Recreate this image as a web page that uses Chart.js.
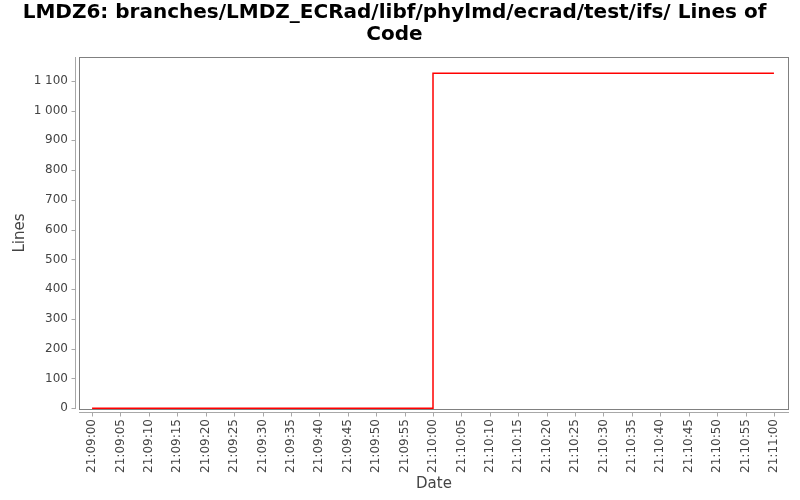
<!DOCTYPE html>
<html>
<head>
<meta charset="utf-8">
<script src="https://cdn.jsdelivr.net/npm/chart.js@4.4.1/dist/chart.umd.min.js"></script>
<style>
  html, body { margin: 0; padding: 0; background: #fff; }
  #wrap { width: 800px; height: 500px; }
</style>
</head>
<body>
<div id="wrap"><canvas id="locChart" width="800" height="500"></canvas></div>
<script>
/* ================= DATA ================= */
// seconds after 21:09:00
const SECONDS = [0, 60, 120];
const LINES = [0, 1125, 1125];

const X_TICK_VALUES = [0, 5, 10, 15, 20, 25, 30, 35, 40, 45, 50, 55, 60,
                       65, 70, 75, 80, 85, 90, 95, 100, 105, 110, 115, 120];
const X_TICK_LABELS = [
    "21:09:00", "21:09:05", "21:09:10", "21:09:15", "21:09:20", "21:09:25",
    "21:09:30", "21:09:35", "21:09:40", "21:09:45", "21:09:50", "21:09:55",
    "21:10:00", "21:10:05", "21:10:10", "21:10:15", "21:10:20", "21:10:25",
    "21:10:30", "21:10:35", "21:10:40", "21:10:45", "21:10:50", "21:10:55",
    "21:11:00"
];
const Y_TICKS = [0, 100, 200, 300, 400, 500, 600, 700, 800, 900, 1000, 1100];

const TITLE_LINES = [
    "LMDZ6: branches/LMDZ_ECRad/libf/phylmd/ecrad/test/ifs/ Lines of",
    "Code"
];

/* ================= HELPERS ================= */
function spaceThousands(v) {
    return String(v).replace(/\B(?=(\d{3})+(?!\d))/g, " ");
}

// plot frame + offset axes like the original
const frameAxes = {
    id: "frameAxes",
    afterDraw(chart) {
        const { ctx, chartArea: a, scales } = chart;
        ctx.save();
        ctx.lineWidth = 1;

        // plot border
        ctx.strokeStyle = "#808080";
        ctx.strokeRect(a.left + 0.5, a.top + 0.5, a.right - a.left - 1, a.bottom - a.top);

        ctx.strokeStyle = "#a8a8a8";
        // y axis
        const yx = a.left - 3.5;
        ctx.beginPath();
        ctx.moveTo(yx, a.top);
        ctx.lineTo(yx, a.bottom);
        Y_TICKS.forEach(v => {
            const py = Math.round(scales.y.getPixelForValue(v)) + 0.5;
            ctx.moveTo(yx - 4, py);
            ctx.lineTo(yx, py);
        });
        ctx.stroke();

        // x axis
        const xy = a.bottom + 3.5;
        ctx.beginPath();
        ctx.moveTo(a.left, xy);
        ctx.lineTo(a.right, xy);
        X_TICK_VALUES.forEach(v => {
            const px = Math.round(scales.x.getPixelForValue(v)) + 0.5;
            ctx.moveTo(px, xy);
            ctx.lineTo(px, xy + 4);
        });
        ctx.stroke();
        ctx.restore();
    }
};

/* ================= CHART ================= */
new Chart(document.getElementById("locChart"), {
    type: "line",
    data: {
        datasets: [{
            label: "Lines",
            data: SECONDS.map((s, i) => ({ x: s, y: LINES[i] })),
            borderColor: "#ff0000",
            borderWidth: 1.5,
            stepped: true,
            pointRadius: 0,
            fill: false
        }]
    },
    options: {
        responsive: false,
        animation: false,
        devicePixelRatio: 1,
        layout: { padding: { left: 0, right: 11, top: 0, bottom: 0 } },
        plugins: {
            legend: { display: false },
            tooltip: { enabled: false },
            title: {
                display: true,
                text: TITLE_LINES,
                color: "#000",
                font: { family: "DejaVu Sans", size: 20, weight: "bold", lineHeight: 1.1 },
                padding: { top: 2, bottom: 11 }
            }
        },
        scales: {
            x: {
                type: "linear",
                min: -2.3,
                max: 122.65,
                afterFit(scale) { scale.height = 91; },
                afterBuildTicks(scale) {
                    scale.ticks = X_TICK_VALUES.map(v => ({ value: v }));
                },
                grid: { display: false, drawTicks: false },
                border: { display: false },
                ticks: {
                    autoSkip: false,
                    minRotation: 90,
                    maxRotation: 90,
                    padding: 10,
                    color: "#444",
                    font: { family: "DejaVu Sans", size: 12 },
                    callback: v => X_TICK_LABELS[X_TICK_VALUES.indexOf(v)]
                },
                title: {
                    display: true,
                    text: "Date",
                    color: "#444",
                    font: { family: "DejaVu Sans", size: 15 },
                    padding: { top: 0, bottom: 7 }
                }
            },
            y: {
                min: -2.7,
                max: 1180,
                afterFit(scale) { scale.width = 79; },
                afterBuildTicks(scale) {
                    scale.ticks = Y_TICKS.map(v => ({ value: v }));
                },
                grid: { display: false, drawTicks: false },
                border: { display: false },
                ticks: {
                    padding: 11,
                    color: "#444",
                    font: { family: "DejaVu Sans", size: 12 },
                    callback: v => spaceThousands(v)
                },
                title: {
                    display: true,
                    text: "Lines",
                    color: "#444",
                    font: { family: "DejaVu Sans", size: 15 },
                    padding: { top: 11, bottom: 0 }
                }
            }
        }
    },
    plugins: [frameAxes]
});
</script>
</body>
</html>
